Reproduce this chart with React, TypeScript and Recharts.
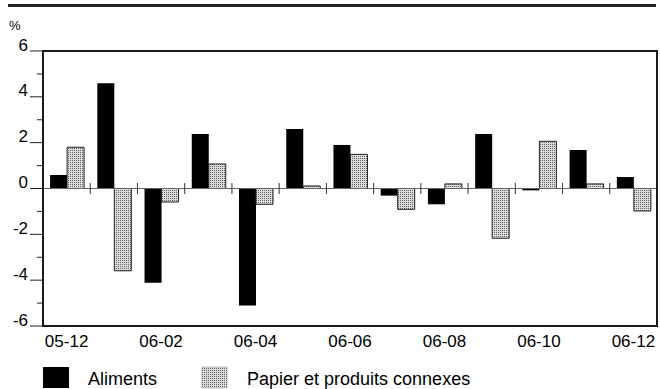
import React from 'react';
import { BarChart, Bar, XAxis, YAxis, ReferenceLine } from 'recharts';

const months = ['05-12', '06-01', '06-02', '06-03', '06-04', '06-05', '06-06', '06-07', '06-08', '06-09', '06-10', '06-11', '06-12'];
const aliments = [0.59, 4.59, -4.11, 2.38, -5.11, 2.6, 1.9, -0.31, -0.69, 2.38, -0.08, 1.68, 0.5];
const papier = [1.8, -3.59, -0.59, 1.07, -0.69, 0.11, 1.49, -0.91, 0.2, -2.17, 2.06, 0.2, -0.98];
const yTicks = [-6, -5, -4, -3, -2, -1, 0, 1, 2, 3, 4, 5, 6];
const seriesNames = ['Aliments', 'Papier et produits connexes'];
const unitLabel = '%';

const data = months.map((m, i) => ({ month: m, aliments: aliments[i], papier: papier[i] }));
const boundaryMonths = months.slice(1);

const FONT = '"Liberation Sans", Arial, Helvetica, sans-serif';
const CHART_W = 660;
const CHART_H = 389;
const MARGIN = { top: 51, right: 3, bottom: 33, left: 0 };
const Y_AXIS_W = 43;
const X_AXIS_H = 30;
const PLOT = {
  x: MARGIN.left + Y_AXIS_W,
  y: MARGIN.top,
  w: CHART_W - MARGIN.right - MARGIN.left - Y_AXIS_W,
  h: CHART_H - MARGIN.bottom - X_AXIS_H - MARGIN.top,
};

const YTick = (props: any) => {
  const { x, y, payload } = props;
  const v = payload.value;
  const major = v % 2 === 0;
  return (
    <g>
      <line x1={x - (major ? 13 : 6)} x2={x} y1={y} y2={y} stroke="#222" strokeWidth={1} />
      {major && (
        <text x={x - 15} y={y - 0.5} textAnchor="end" style={{ fontSize: 17, fontFamily: FONT }} fill="#000">
          {v}
        </text>
      )}
    </g>
  );
};

const XTick = (props: any) => {
  const { x, y, payload } = props;
  return (
    <text x={x} y={y + 21} textAnchor="middle" style={{ fontSize: 17, fontFamily: FONT }} fill="#000">
      {payload.value}
    </text>
  );
};

export default function App() {
  return (
    <div style={{ position: 'absolute', left: 0, top: 0, width: CHART_W, height: CHART_H, background: '#fff' }}>
      <svg width={0} height={0} style={{ position: 'absolute' }}>
        <defs>
          <pattern id="dots" width={2} height={2} patternUnits="userSpaceOnUse">
            <rect x={0} y={0} width={2} height={2} fill="#dadada" />
            <rect x={0} y={0} width={1} height={1} fill="#666" />
          </pattern>
        </defs>
      </svg>
      <BarChart
        width={CHART_W}
        height={CHART_H}
        data={data}
        margin={MARGIN}
        barCategoryGap="15%"
        barGap={0}
      >
        <XAxis
          dataKey="month"
          height={X_AXIS_H}
          interval={1}
          tickSize={0}
          tickMargin={0}
          tickLine={false}
          axisLine={{ stroke: '#222', strokeWidth: 2 }}
          tick={<XTick />}
        />
        <YAxis
          width={Y_AXIS_W}
          domain={[-6, 6]}
          ticks={yTicks}
          interval={0}
          tickSize={0}
          tickMargin={0}
          tickLine={false}
          axisLine={{ stroke: '#222', strokeWidth: 2 }}
          tick={<YTick />}
        />
        <ReferenceLine y={0} stroke="#666" strokeWidth={1} />
        {boundaryMonths.map((m) => (
          <ReferenceLine
            key={m}
            position="start"
            segment={[{ x: m, y: -0.24 }, { x: m, y: 0.24 }]}
            stroke="#333"
            strokeWidth={1}
          />
        ))}
        <Bar dataKey="aliments" name={seriesNames[0]} fill="#000" isAnimationActive={false} />
        <Bar dataKey="papier" name={seriesNames[1]} fill="url(#dots)" stroke="#222" strokeWidth={1} isAnimationActive={false} />
      </BarChart>
      <svg width={CHART_W} height={CHART_H} style={{ position: 'absolute', left: 0, top: 0, pointerEvents: 'none' }}>
        <rect x={8} y={4} width={648} height={3} fill="#222" />
        <rect x={PLOT.x} y={PLOT.y} width={PLOT.w} height={PLOT.h} fill="none" stroke="#1a1a1a" strokeWidth={2} />
        <text x={9} y={30} style={{ fontSize: 13, fontFamily: FONT }} fill="#000">{unitLabel}</text>
        <rect x={43} y={367} width={26} height={21} fill="#000" />
        <text x={88} y={385} style={{ fontSize: 18, fontFamily: FONT }} fill="#000">{seriesNames[0]}</text>
        <rect x={202} y={367} width={25} height={21} fill="url(#dots)" stroke="#888" strokeWidth={0.5} />
        <text x={247} y={385} style={{ fontSize: 18, fontFamily: FONT }} fill="#000">{seriesNames[1]}</text>
      </svg>
    </div>
  );
}
